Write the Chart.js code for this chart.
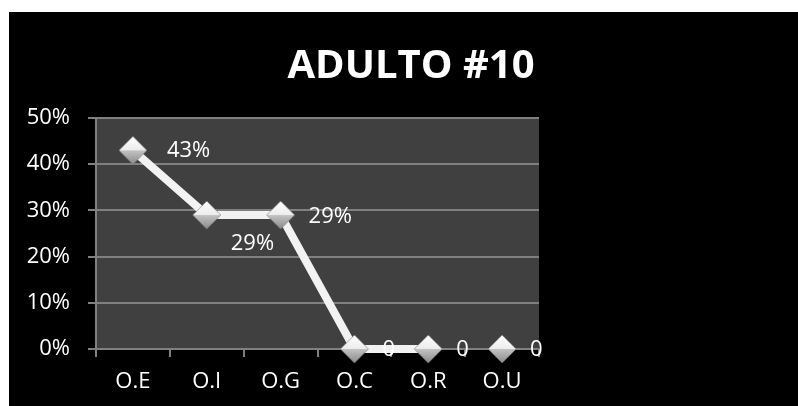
<!DOCTYPE html>
<html>
<head>
<meta charset="utf-8">
<script src="https://cdn.jsdelivr.net/npm/chart.js@4/dist/chart.umd.min.js"></script>
<style>
html, body { margin: 0; background: #fff; }
#wrap { position: absolute; left: 9px; top: 12px; width: 789px; height: 394px; background: #000; }
</style>
</head>
<body>
<div id="wrap"><canvas id="chart"></canvas></div>
<script>
// Chart data
const chartTitle = 'ADULTO #10';
const categories = ['O.E', 'O.I', 'O.G', 'O.C', 'O.R', 'O.U'];
const values = [0.43, 0.29, 0.29, 0, 0, 0];
const yMin = 0;
const yMax = 0.5;
const yStep = 0.1;

const FONT = '"Open Sans", "DejaVu Sans", sans-serif';
const GRID = '#808080';

// label placement relative to each point (dx, dy)
const labelOffsets = [[34, 0], [24, 29], [28, 2], [28, 1], [28, 1], [28, 1]];

function fmtLabel(v) {
    return v === 0 ? '0' : Math.round(v * 100) + '%';
}

// Diamond marker drawn once into an offscreen canvas
function makeDiamond(r) {
    const c = document.createElement('canvas');
    c.width = c.height = r * 2 + 2;
    const g = c.getContext('2d');
    const m = r + 1;
    const grad = g.createLinearGradient(0, 1, 0, c.height - 1);
    grad.addColorStop(0, '#ffffff');
    grad.addColorStop(0.5, '#ececec');
    grad.addColorStop(0.5, '#c4c4c4');
    grad.addColorStop(1, '#8a8a8a');
    g.beginPath();
    g.moveTo(m, 1);
    g.lineTo(c.width - 1, m);
    g.lineTo(m, c.height - 1);
    g.lineTo(1, m);
    g.closePath();
    g.fillStyle = grad;
    g.fill();
    g.strokeStyle = 'rgba(120,120,120,0.6)';
    g.lineWidth = 1;
    g.stroke();
    return c;
}
const diamond = makeDiamond(14);

const plotBg = {
    id: 'plotBg',
    beforeDraw(chart) {
        const { ctx, chartArea: a } = chart;
        ctx.save();
        ctx.fillStyle = '#404040';
        ctx.fillRect(a.left, a.top, a.right - a.left, a.bottom - a.top);
        ctx.restore();
    }
};

const titleText = {
    id: 'titleText',
    afterDraw(chart) {
        const ctx = chart.ctx;
        ctx.save();
        ctx.fillStyle = '#fff';
        ctx.font = 'bold 40px ' + FONT;
        ctx.textAlign = 'center';
        ctx.textBaseline = 'alphabetic';
        ctx.fillText(chartTitle, 402, 66);
        ctx.restore();
    }
};

const pointLabels = {
    id: 'pointLabels',
    afterDatasetsDraw(chart) {
        const ctx = chart.ctx;
        const meta = chart.getDatasetMeta(0);
        ctx.save();
        ctx.fillStyle = '#fff';
        ctx.font = '22px ' + FONT;
        ctx.textAlign = 'left';
        ctx.textBaseline = 'middle';
        meta.data.forEach((pt, i) => {
            const [dx, dy] = labelOffsets[i];
            ctx.fillText(fmtLabel(values[i]), pt.x + dx, pt.y + dy);
        });
        ctx.restore();
    }
};

new Chart(document.getElementById('chart'), {
    type: 'line',
    data: {
        labels: categories,
        datasets: [{
            data: values,
            borderColor: '#f2f2f2',
            borderWidth: 8,
            tension: 0,
            clip: false,
            pointStyle: diamond,
            pointRadius: 14,
            pointHoverRadius: 14,
            segment: {
                borderColor: ctx => ctx.p1DataIndex === values.length - 1 ? 'transparent' : undefined
            }
        }]
    },
    options: {
        responsive: true,
        maintainAspectRatio: false,
        animation: false,
        events: [],
        layout: { padding: { top: 106, right: 259, left: 0, bottom: 0 } },
        plugins: {
            legend: { display: false },
            tooltip: { enabled: false }
        },
        scales: {
            x: {
                offset: true,
                grid: { offset: true, drawOnChartArea: false, color: GRID, lineWidth: 2, tickLength: 8 },
                border: { display: false },
                ticks: { color: '#fff', font: { family: FONT, size: 22 }, padding: 12 },
                afterFit(scale) { scale.height = 57; }
            },
            y: {
                min: yMin,
                max: yMax,
                grid: { color: GRID, lineWidth: 2, tickLength: 8 },
                border: { display: true, color: GRID, width: 2 },
                ticks: {
                    stepSize: yStep,
                    color: '#fff',
                    padding: 18,
                    font: { family: FONT, size: 22 },
                    callback: v => Math.round(v * 100) + '%'
                },
                afterFit(scale) { scale.width = 87; }
            }
        }
    },
    plugins: [plotBg, titleText, pointLabels]
});
</script>
</body>
</html>
